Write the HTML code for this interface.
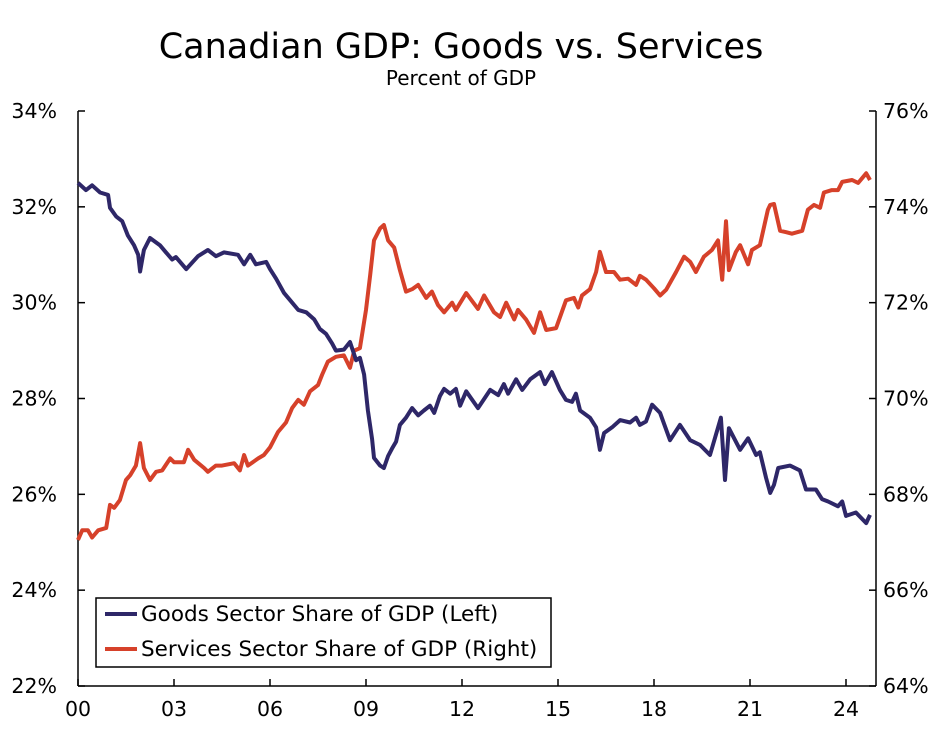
<!DOCTYPE html>
<html><head><meta charset="utf-8"><style>
body{margin:0;background:#fff;}
svg text{font-family:"DejaVu Sans","Liberation Sans",sans-serif;fill:#000;}
</style></head><body>
<svg width="949" height="728" viewBox="0 0 949 728" xmlns="http://www.w3.org/2000/svg">
<text x="461" y="58" font-size="35" text-anchor="middle">Canadian GDP: Goods vs. Services</text>
<text x="461" y="85" font-size="20" text-anchor="middle">Percent of GDP</text>
<g id="axes"></g>
<g id="series"></g>
<g>
<rect x="96" y="598" width="455" height="69" fill="#fff" stroke="#000" stroke-width="1.5"/>
<line x1="105" y1="614" x2="137" y2="614" stroke="#2e2768" stroke-width="4"/>
<text x="141" y="621" font-size="21.5">Goods Sector Share of GDP (Left)</text>
<line x1="105" y1="649" x2="137" y2="649" stroke="#d6412a" stroke-width="4"/>
<text x="141" y="656" font-size="21.5">Services Sector Share of GDP (Right)</text>
</g>
</svg>
<script>
const leftTicks=[22,24,26,28,30,32,34];
const rightTicks=[64,66,68,70,72,74,76];
const xTickYears=[0,3,6,9,12,15,18,21,24];
const xTickLabels=["00","03","06","09","12","15","18","21","24"];
const goodsYears=[0,.25,.44,.69,.94,1.0,1.19,1.38,1.56,1.75,1.88,1.94,2.06,2.25,2.56,2.75,2.94,3.06,3.38,3.75,4.06,4.31,4.56,5.0,5.19,5.38,5.56,5.88,6.0,6.19,6.44,6.63,6.88,7.13,7.38,7.56,7.75,7.94,8.06,8.31,8.5,8.69,8.81,8.94,9.06,9.19,9.25,9.44,9.56,9.69,9.81,9.94,10.06,10.25,10.44,10.63,10.81,11.0,11.13,11.31,11.44,11.63,11.81,11.94,12.13,12.5,12.88,13.13,13.31,13.44,13.69,13.88,14.13,14.44,14.59,14.81,15.06,15.25,15.44,15.56,15.69,16.0,16.19,16.31,16.44,16.69,16.94,17.25,17.44,17.56,17.75,17.94,18.19,18.5,18.81,19.13,19.44,19.75,20.09,20.22,20.34,20.69,20.94,21.19,21.31,21.5,21.63,21.75,21.88,22.25,22.56,22.75,23.06,23.25,23.44,23.75,23.88,24.0,24.31,24.63,24.75];
const goodsValues=[32.5,32.35,32.45,32.3,32.25,31.98,31.8,31.7,31.4,31.2,31.0,30.65,31.1,31.35,31.2,31.05,30.9,30.95,30.7,30.97,31.1,30.97,31.05,31.0,30.8,31.0,30.8,30.85,30.7,30.5,30.2,30.05,29.85,29.8,29.65,29.45,29.35,29.15,29.0,29.02,29.18,28.8,28.85,28.5,27.75,27.15,26.76,26.6,26.55,26.8,26.95,27.1,27.45,27.6,27.8,27.65,27.75,27.85,27.7,28.05,28.2,28.1,28.2,27.85,28.15,27.8,28.18,28.07,28.3,28.1,28.4,28.18,28.4,28.55,28.3,28.55,28.18,27.97,27.93,28.1,27.75,27.6,27.4,26.93,27.28,27.4,27.55,27.5,27.6,27.45,27.52,27.87,27.7,27.13,27.45,27.13,27.03,26.82,27.6,26.3,27.38,26.93,27.17,26.82,26.88,26.35,26.03,26.2,26.55,26.6,26.5,26.1,26.1,25.9,25.85,25.75,25.85,25.55,25.62,25.4,25.57];
const servicesYears=[0,.13,.31,.44,.63,.88,1.0,1.13,1.31,1.5,1.63,1.81,1.94,2.06,2.25,2.44,2.63,2.88,3.0,3.31,3.44,3.63,3.94,4.06,4.31,4.5,4.88,5.06,5.19,5.31,5.63,5.81,6.0,6.25,6.5,6.69,6.88,7.06,7.25,7.5,7.63,7.81,8.06,8.31,8.5,8.63,8.81,9.0,9.13,9.25,9.44,9.56,9.69,9.88,10.06,10.25,10.44,10.63,10.88,11.06,11.25,11.44,11.69,11.81,12.13,12.5,12.69,13.0,13.19,13.38,13.63,13.75,14.0,14.25,14.44,14.63,14.94,15.25,15.5,15.63,15.75,16.0,16.19,16.31,16.5,16.75,16.94,17.19,17.44,17.56,17.75,18.0,18.19,18.38,18.69,18.94,19.13,19.31,19.56,19.81,20.0,20.13,20.25,20.34,20.56,20.69,20.94,21.06,21.31,21.56,21.63,21.75,21.94,22.13,22.31,22.63,22.81,23.0,23.19,23.31,23.56,23.75,23.88,24.19,24.38,24.63,24.75];
const servicesValues=[67.05,67.25,67.25,67.1,67.25,67.3,67.78,67.72,67.88,68.3,68.4,68.6,69.07,68.55,68.3,68.47,68.5,68.75,68.67,68.67,68.93,68.72,68.55,68.47,68.6,68.6,68.65,68.5,68.82,68.6,68.75,68.82,68.98,69.3,69.5,69.8,69.97,69.87,70.15,70.28,70.5,70.77,70.87,70.9,70.64,71.0,71.05,71.85,72.58,73.3,73.55,73.62,73.3,73.15,72.68,72.23,72.28,72.37,72.1,72.23,71.95,71.8,72.0,71.85,72.2,71.87,72.15,71.8,71.7,72.0,71.65,71.85,71.65,71.37,71.8,71.43,71.47,72.05,72.1,71.9,72.15,72.28,72.64,73.06,72.64,72.64,72.48,72.5,72.37,72.56,72.48,72.3,72.15,72.27,72.64,72.96,72.85,72.64,72.96,73.1,73.3,72.48,73.7,72.68,73.06,73.2,72.8,73.1,73.2,73.94,74.04,74.06,73.5,73.47,73.44,73.5,73.94,74.04,73.98,74.3,74.35,74.35,74.52,74.56,74.5,74.7,74.56];

const X0=78,X1=876,Y0=686,Y1=111;
const xScale=t=>X0+t*32;
const yLeft=v=>Y0-(v-22)/12*(Y0-Y1);
const yRight=v=>Y0-(v-64)/12*(Y0-Y1);
const NS="http://www.w3.org/2000/svg";
const axes=document.getElementById('axes');
const series=document.getElementById('series');
function mk(tag,attrs,parent){const e=document.createElementNS(NS,tag);for(const k in attrs)e.setAttribute(k,attrs[k]);parent.appendChild(e);return e;}

let el=mk('line',{x1:X0,y1:Y1,x2:X0,y2:Y0,stroke:'#000','stroke-width':1.5},axes);


el=mk('line',{x1:X1,y1:Y1,x2:X1,y2:Y0,stroke:'#000','stroke-width':1.5},axes);


el=mk('line',{x1:X0,y1:Y0,x2:X1,y2:Y0,stroke:'#000','stroke-width':1.5},axes);



leftTicks.forEach(v=>{
  const y=yLeft(v);
  let t=mk('line',{x1:X0,y1:y,x2:X0+7,y2:y,stroke:'#000','stroke-width':1.5},axes);
  
  
  let l=mk('text',{x:X0-21,y:y+7,'font-size':20.5,'text-anchor':'end'},axes);
  l.textContent=v+'%';
  
  
});
rightTicks.forEach(v=>{
  const y=yRight(v);
  let t=mk('line',{x1:X1-7,y1:y,x2:X1,y2:y,stroke:'#000','stroke-width':1.5},axes);
  
  
  let l=mk('text',{x:X1+7,y:y+7,'font-size':20.5,'text-anchor':'start'},axes);
  l.textContent=v+'%';
  
  
});
xTickYears.forEach((t,i)=>{
  const x=xScale(t);
  let k=mk('line',{x1:x,y1:Y0-7,x2:x,y2:Y0,stroke:'#000','stroke-width':1.5},axes);
  
  
  let l=mk('text',{x:x,y:Y0+30,'font-size':20.5,'text-anchor':'middle'},axes);
  l.textContent=xTickLabels[i];
  
  
});

function pathFrom(xs,vs,ys){return xs.map((t,i)=>(i?'L':'M')+xScale(t).toFixed(1)+','+ys(vs[i]).toFixed(1)).join('');}
let p=mk('path',{d:pathFrom(servicesYears,servicesValues,yRight),fill:'none',stroke:'#d6412a','stroke-width':4,'stroke-linejoin':'round'},series);


p=mk('path',{d:pathFrom(goodsYears,goodsValues,yLeft),fill:'none',stroke:'#2e2768','stroke-width':4,'stroke-linejoin':'round'},series);


</script>
</body></html>
